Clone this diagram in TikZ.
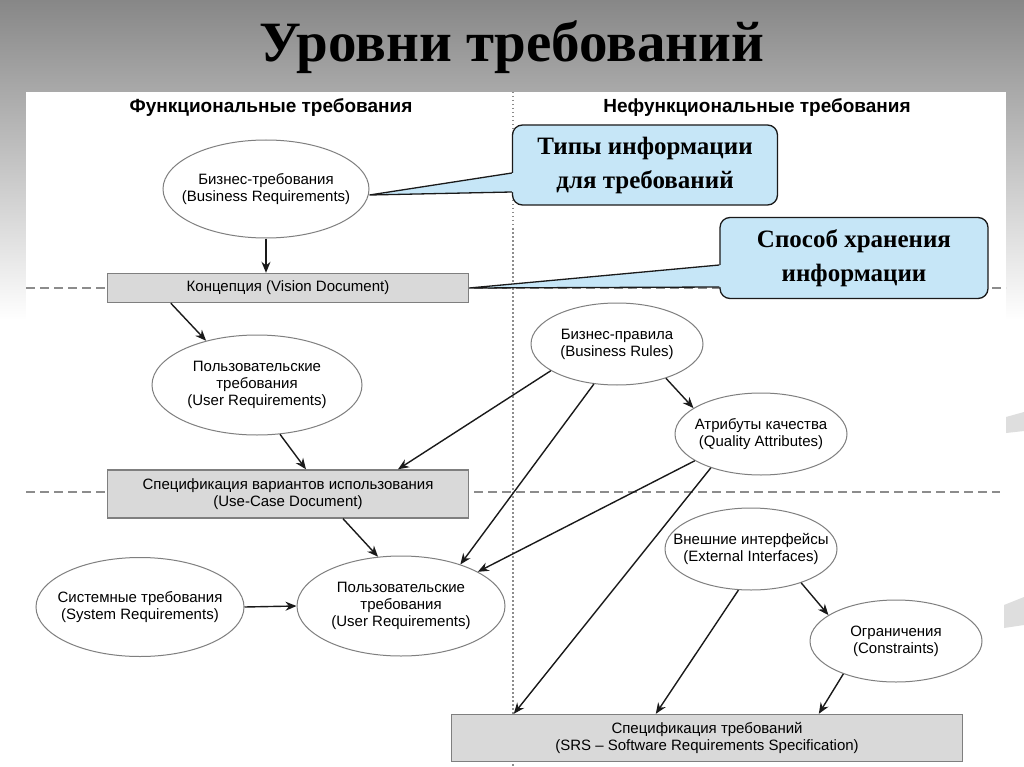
\documentclass[tikz,border=0pt]{standalone}
\usepackage{fontspec}
\setmainfont{Liberation Serif}
\setsansfont{Liberation Sans}
\usetikzlibrary{arrows.meta,positioning,calc,shapes.geometric}
\definecolor{grisfondo}{HTML}{878787}
\definecolor{grisborde}{HTML}{7F7F7F}
\definecolor{griscaja}{HTML}{D9D9D9}
\definecolor{grislinea}{HTML}{8C8C8C}
\definecolor{grisdeco}{HTML}{DEDEDE}
\definecolor{celeste}{HTML}{C6E6F7}
\definecolor{tinta}{HTML}{1A1A1A}

\begin{document}
\begin{tikzpicture}[x=1pt, y=-1pt,
  elipse/.style={
    ellipse, draw=grisborde, fill=white, line width=1pt,
    inner xsep=-60pt, inner ysep=-20pt,
    align=center, font=\sffamily\fontsize{15}{17}\selectfont
  },
  caja/.style={
    draw=grisborde, fill=griscaja, line width=1.4pt, inner sep=0pt,
    align=center, font=\sffamily\fontsize{15}{17}\selectfont
  },
  nota/.style={
    draw=tinta, fill=celeste, rounded corners=10pt, line width=1.3pt,
    align=center, inner sep=0pt, font=\bfseries\fontsize{25}{34}\selectfont
  },
  cabecera/.style={font=\sffamily\bfseries\fontsize{19}{22}\selectfont},
  arr/.style={-{Stealth[length=11pt, width=9pt]}, line width=1.4pt, color=tinta},
  divisor/.style={grislinea, line width=1.2pt}
]
  \useasboundingbox (0,0) rectangle (1024,767);
  \shade[top color=grisfondo, bottom color=white] (0,0) rectangle (1024,320);
  \fill[white] (0,320) rectangle (1024,767);
  \fill[white] (26,92) rectangle (1006,767);
  \fill[grisdeco] (1006,417) -- (1024,412) -- (1024,431) -- (1006,433) -- cycle;
  \fill[grisdeco] (1004,605) -- (1024,597) -- (1024,625) -- (1004,628) -- cycle;
  \node[font=\bfseries\fontsize{57}{60}\selectfont] (titulo) at (512,47) {Уровни требований};

  \draw[divisor, dash pattern=on 1.5pt off 2.5pt] (513,92) -- (513,767);
  \draw[divisor, dash pattern=on 9pt off 5pt] (26,288) -- (1006,288);
  \draw[divisor, dash pattern=on 9pt off 5pt] (26,492) -- (1000,492);

  \node[cabecera] (hfun) at (271,108) {Функциональные требования};
  \node[cabecera] (hnof) at (757,108) {Нефункциональные требования};

  \node[elipse, minimum width=206, minimum height=98] (bizreq) at (266,189) {Бизнес-требования\\(Business Requirements)};
  \node[caja, minimum width=361, minimum height=29] (vision) at (288,288) {Концепция (Vision Document)};
  \node[elipse, minimum width=210, minimum height=100] (usr1) at (257,385) {Пользовательские\\требования\\(User Requirements)};
  \node[caja, minimum width=361, minimum height=48] (usecase) at (288,494) {Спецификация вариантов использования\\(Use-Case Document)};
  \node[elipse, minimum width=172, minimum height=82] (reglas) at (617,344) {Бизнес-правила\\(Business Rules)};
  \node[elipse, minimum width=172, minimum height=82] (calidad) at (761,434) {Атрибуты качества\\(Quality Attributes)};
  \node[elipse, minimum width=208, minimum height=99] (sistema) at (140,607) {Системные требования\\(System Requirements)};
  \node[elipse, minimum width=208, minimum height=100] (usr2) at (401,606) {Пользовательские\\требования\\(User Requirements)};
  \node[elipse, minimum width=172, minimum height=82] (interfaz) at (751,549) {Внешние интерфейсы\\(External Interfaces)};
  \node[elipse, minimum width=172, minimum height=82] (restric) at (896,641) {Ограничения\\(Constraints)};
  \node[caja, minimum width=511, minimum height=47] (srs) at (707,738) {Спецификация требований\\(SRS – Software Requirements Specification)};

  \node[nota, minimum width=265, minimum height=80] (tipos) at (645,165) {Типы информации\\для требований};
  \node[nota, minimum width=268, minimum height=81] (modo) at (854,258) {Способ хранения\\информации};
  \fill[celeste] ($(tipos.west)+(2,8)$) -- ($(bizreq.east)+(0,6)$) -- ($(tipos.west)+(2,27)$) -- cycle;
  \draw[tinta, line width=1.3pt] ($(tipos.west)+(0,8)$) -- ($(bizreq.east)+(0,6)$) -- ($(tipos.west)+(0,27)$);
  \fill[celeste] ($(modo.west)+(2,7)$) -- (vision.east) -- ($(modo.west)+(2,29)$) -- cycle;
  \draw[tinta, line width=1.3pt] ($(modo.west)+(0,7)$) -- (vision.east) -- ($(modo.west)+(0,29)$);

  \draw[arr] (bizreq.south) -- (bizreq.south |- vision.north);
  \draw[arr] ($(vision.south west)+(64,0)$) -- (usr1.139);
  \draw[arr] (usr1.-65) -- ($(usecase.north)+(18,0)$);
  \draw[arr] (reglas.202) -- ($(usecase.north)+(110,0)$);
  \draw[arr] (reglas.-35) -- (calidad.159);
  \draw[arr] (reglas.240) -- (usr2.35);
  \draw[arr] (calidad.202) -- (usr2.24);
  \draw[arr] (calidad.214) -- ($(srs.north west)+(63,0)$);
  \draw[arr] ($(usecase.south)+(55,0)$) -- (usr2.115);
  \draw[arr] (sistema.east) -- (usr2.west);
  \draw[arr] (interfaz.-34) -- (restric.159);
  \draw[arr] (interfaz.253) -- ($(srs.north west)+(205,0)$);
  \draw[arr] (restric.212) -- ($(srs.north west)+(368,0)$);
\end{tikzpicture}
\end{document}
